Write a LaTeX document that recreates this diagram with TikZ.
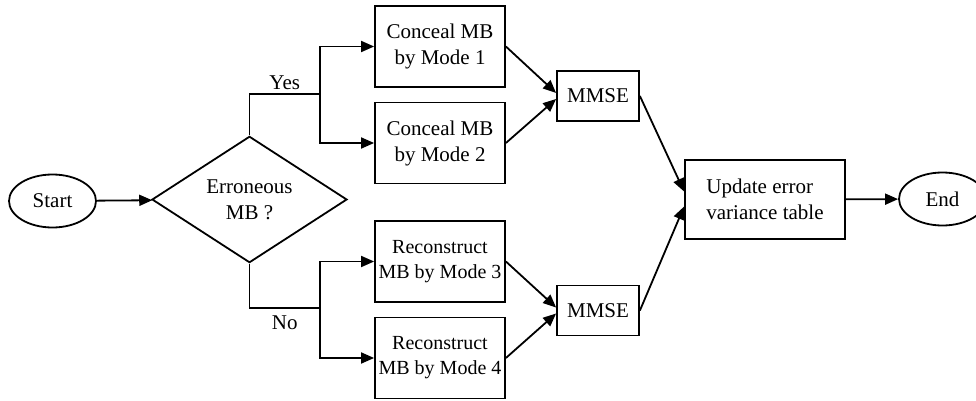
\documentclass[tikz,border=0pt]{standalone}
\usepackage{fontspec}
\setmainfont{Liberation Serif}
\usetikzlibrary{shapes.geometric,arrows.meta}
\begin{document}
\begin{tikzpicture}[x=1pt,y=-1pt,line width=1.8pt,
  font=\fontsize{21}{26}\selectfont,
  arr/.style={-{Triangle[length=13pt,width=11pt]}},
  proc/.style={draw,rectangle,inner sep=0pt,align=center,minimum width=130pt,minimum height=81pt},
  small/.style={draw,rectangle,inner sep=0pt,minimum width=82pt,minimum height=50pt},
  term/.style={draw,ellipse,inner sep=0pt,minimum width=87pt,minimum height=53pt}]
\useasboundingbox (0,0) rectangle (976,401);
\node[term] (start) at (52.5,201) {Start};
\node[draw,diamond,inner sep=0pt,minimum width=195pt,minimum height=85pt,align=center]
  (err) at (249.5,199.5) {Erroneous\\MB ?};
\node[proc] (cm1) at (440,46.5) {Conceal MB\\by Mode 1};
\node[proc] (cm2) at (440,143) {Conceal MB\\by Mode 2};
\node[proc,font=\fontsize{20}{25}\selectfont] (rm3) at (440,261.5) {Reconstruct\\MB by Mode 3};
\node[proc,font=\fontsize{20}{25}\selectfont] (rm4) at (440,358) {Reconstruct\\MB by Mode 4};
\node[small] (mmse1) at (598,96) {MMSE};
\node[small] (mmse2) at (598,310.5) {MMSE};
\node[draw,rectangle,inner sep=0pt,minimum width=160pt,minimum height=79pt,align=left]
  (upd) at (765,199.5) {Update error\\variance table};
\node[term] (fin) at (942.5,199) {End};
\coordinate (yes) at (320,94);
\coordinate (no) at (320,308);
\draw[arr] (start) -- (err);
\draw (err.north) |- (yes) node[pos=0.75,above] {Yes};
\draw[arr] (yes) |- (cm1.west);
\draw[arr] (yes) |- (cm2.west);
\draw (err.south) |- (no) node[pos=0.75,below,yshift=-4pt] {No};
\draw[arr] (no) |- (rm3.west);
\draw[arr] (no) |- (rm4.west);
\draw[arr] (cm1.east) -- ([yshift=3pt]mmse1.west);
\draw[arr] (cm2.east) -- ([yshift=-3pt]mmse1.west);
\draw[arr] (rm3.east) -- ([yshift=3pt]mmse2.west);
\draw[arr] (rm4.east) -- ([yshift=-3pt]mmse2.west);
\draw[arr] (mmse1.east) -- ([yshift=8pt]upd.west);
\draw[arr] (mmse2.east) -- ([yshift=-7pt]upd.west);
\draw[arr] (upd) -- (fin);
\end{tikzpicture}
\end{document}
